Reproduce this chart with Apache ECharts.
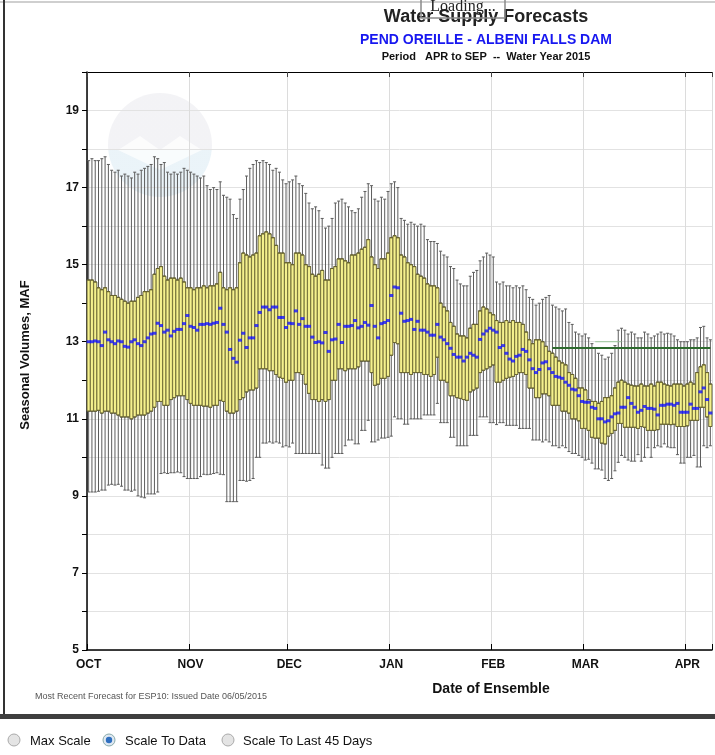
<!DOCTYPE html>
<html>
<head>
<meta charset="utf-8">
<script src="https://cdn.jsdelivr.net/npm/echarts@6/dist/echarts.min.js"></script>
<style>html,body{margin:0;padding:0;background:#fff;}#c{width:715px;height:755px;}</style>
</head>
<body>
<div id="c"></div>
<script>
// ---------- DATA ----------
const monthLabels = ['OCT','NOV','DEC','JAN','FEB','MAR','APR'];
const monthStarts = [0,31,61,92,123,151,182];
const yTickLabels = ['5','7','9','11','13','15','17','19'];

// whisker high (max of ensemble)
const whiskerHigh = [
17.7,17.75,17.7,17.7,17.75,17.8,17.6,17.45,17.4,17.45,
17.3,17.35,17.3,17.25,17.4,17.35,17.45,17.5,17.55,17.6,
17.8,17.75,17.6,17.65,17.4,17.35,17.4,17.35,17.4,17.5,
17.45,17.4,17.35,17.3,17.25,17.3,17.05,16.95,17.0,16.95,
17.15,16.8,16.75,16.7,16.3,16.2,16.7,16.95,17.3,17.5,
17.6,17.7,17.65,17.7,17.65,17.6,17.45,17.5,17.4,17.2,
17.1,17.15,17.2,17.3,17.1,17.05,16.85,16.6,16.45,16.5,
16.4,16.2,15.95,16.0,16.2,16.6,16.65,16.7,16.6,16.5,
16.4,16.35,16.45,16.75,16.9,17.1,17.05,16.7,16.65,16.75,
16.7,16.9,17.1,17.15,17.0,16.2,16.15,16.05,16.1,16.05,
16.0,16.05,16.0,15.65,15.6,15.6,15.55,15.35,15.25,15.2,
14.95,14.9,14.6,14.5,14.45,14.45,14.7,14.8,14.85,15.1,
15.2,15.3,15.25,15.2,14.55,14.5,14.55,14.45,14.45,14.4,
14.45,14.4,14.45,14.35,14.15,14.1,13.95,14.0,14.1,14.15,
14.2,13.95,13.9,13.85,13.8,13.85,13.5,13.45,13.25,13.2,
13.15,13.2,13.1,12.95,12.85,12.7,12.65,12.55,12.6,12.7,
12.9,13.3,13.35,13.3,13.2,13.25,13.2,13.1,13.1,13.25,
13.2,13.1,13.15,13.2,13.25,13.2,13.22,13.2,13.15,13.05,
13.0,13.0,13.0,13.05,13.05,13.1,13.37,13.4,13.1,13.05
];
// box high (upper quartile)
const boxHigh = [
14.6,14.6,14.55,14.4,14.35,14.4,14.3,14.2,14.2,14.15,
14.1,14.05,14.0,14.05,14.05,14.15,14.2,14.3,14.3,14.35,
14.75,14.9,14.95,14.7,14.6,14.65,14.65,14.6,14.65,14.55,
14.4,14.4,14.35,14.4,14.4,14.45,14.4,14.45,14.45,14.5,
14.8,14.4,14.35,14.4,14.35,14.4,15.05,15.3,15.25,15.2,
15.25,15.3,15.75,15.8,15.85,15.8,15.7,15.5,15.3,15.3,
15.05,15.05,15.0,15.3,15.3,15.25,15.0,14.95,14.75,14.7,
14.75,14.85,14.6,14.6,14.9,14.95,15.15,15.15,15.1,15.05,
15.25,15.25,15.3,15.4,15.45,15.65,15.2,15.0,14.9,15.15,
15.15,15.3,15.7,15.75,15.7,15.25,15.2,15.05,15.0,14.95,
14.75,14.7,14.65,14.5,14.45,14.45,14.4,14.0,13.9,13.8,
13.5,13.4,13.2,13.15,13.15,13.1,13.35,13.45,13.45,13.8,
13.9,13.85,13.75,13.7,13.55,13.5,13.5,13.55,13.5,13.55,
13.5,13.5,13.45,13.25,13.05,12.95,13.05,13.05,13.0,12.88,
12.75,12.7,12.6,12.5,12.45,12.4,12.2,12.15,12.05,11.8,
11.8,11.75,11.5,11.45,11.45,11.4,11.45,11.55,11.55,11.6,
11.8,11.95,12.0,11.95,11.9,11.87,11.85,11.85,11.9,11.85,
11.85,11.9,11.85,11.95,11.95,11.9,11.87,11.85,11.9,11.9,
11.9,11.85,11.9,11.95,11.9,12.2,12.35,12.4,12.2,11.9
];
// median (blue markers)
const median = [
13.0,13.0,13.02,13.0,12.9,13.25,13.05,13.0,12.95,13.02,
13.0,12.88,12.86,13.0,13.05,12.95,12.9,13.0,13.1,13.2,
13.22,13.48,13.42,13.25,13.3,13.15,13.27,13.32,13.32,13.47,
13.68,13.4,13.37,13.3,13.45,13.45,13.47,13.45,13.48,13.5,
13.87,13.45,13.25,12.8,12.57,12.47,13.04,13.22,12.85,13.1,
13.1,13.42,13.76,13.9,13.9,13.83,13.9,13.9,13.63,13.63,
13.37,13.48,13.47,13.8,13.45,13.6,13.4,13.4,13.12,12.98,
13.0,12.97,13.24,12.75,13.05,13.07,13.45,12.98,13.4,13.4,
13.42,13.55,13.36,13.4,13.5,13.43,13.94,13.4,13.1,13.47,
13.5,13.55,14.2,14.42,14.4,13.74,13.53,13.55,13.58,13.32,
13.53,13.3,13.3,13.25,13.17,13.17,13.45,13.12,13.05,12.95,
12.83,12.67,12.6,12.6,12.5,12.6,12.7,12.65,12.6,13.06,
13.2,13.28,13.35,13.3,13.25,12.85,12.9,12.7,12.55,12.5,
12.62,12.65,12.8,12.75,12.53,12.3,12.2,12.28,12.45,12.48,
12.3,12.2,12.1,12.08,12.05,11.95,11.87,11.77,11.75,11.6,
11.45,11.43,11.43,11.3,11.27,11.0,11.0,10.92,10.95,11.05,
11.13,11.15,11.3,11.3,11.55,11.4,11.3,11.17,11.22,11.32,
11.27,11.27,11.25,11.1,11.35,11.35,11.38,11.38,11.35,11.4,
11.17,11.17,11.17,11.38,11.27,11.27,11.7,11.8,11.5,11.15
];
// box low (lower quartile)
const boxLow = [
11.2,11.2,11.2,11.22,11.15,11.2,11.2,11.15,11.15,11.1,
11.05,11.05,11.05,11.0,11.05,11.1,11.1,11.1,11.15,11.2,
11.3,11.45,11.45,11.35,11.35,11.5,11.55,11.6,11.6,11.6,
11.5,11.4,11.35,11.35,11.35,11.33,11.33,11.3,11.35,11.35,
11.48,11.45,11.2,11.15,11.15,11.2,11.5,11.55,11.7,11.75,
11.75,11.8,12.3,12.3,12.3,12.25,12.25,12.15,12.08,12.05,
11.95,12.0,12.0,12.2,12.2,12.15,11.9,11.66,11.5,11.5,
11.45,11.5,11.45,11.5,12.0,12.0,12.3,12.3,12.25,12.3,
12.3,12.3,12.35,12.5,12.5,12.5,12.2,11.87,11.9,12.05,
12.05,12.1,12.65,12.98,12.95,12.2,12.2,12.2,12.15,12.2,
12.2,12.2,12.15,12.15,12.1,12.15,12.6,12.0,12.0,11.95,
11.6,11.6,11.55,11.53,11.5,11.48,11.7,11.75,11.8,12.2,
12.26,12.3,12.35,12.4,11.95,11.95,12.0,12.05,12.08,12.1,
12.15,12.2,12.2,12.15,11.8,11.8,11.55,11.55,11.65,11.65,
11.6,11.35,11.35,11.35,11.2,11.2,11.15,11.0,11.0,10.95,
10.75,10.75,10.7,10.52,10.5,10.5,10.37,10.35,10.55,10.62,
10.7,10.88,10.88,10.78,10.78,10.78,10.78,10.75,10.8,10.78,
10.7,10.7,10.7,10.72,10.86,10.86,10.86,10.85,10.86,10.8,
10.8,10.8,10.82,10.96,10.96,10.96,11.3,11.3,11.05,10.8
];
// whisker low (min of ensemble)
const whiskerLow = [
9.1,9.1,9.1,9.12,9.15,9.15,9.28,9.3,9.28,9.3,
9.25,9.15,9.15,9.12,9.15,9.0,8.97,8.95,9.05,9.05,
9.05,9.1,9.58,9.6,9.58,9.6,9.6,9.62,9.6,9.5,
9.45,9.45,9.45,9.45,9.5,9.56,9.55,9.56,9.58,9.6,
9.56,9.55,8.85,8.85,8.85,8.85,9.4,9.4,9.38,9.4,
9.45,10.0,10.0,10.37,10.37,10.4,10.37,10.4,10.37,10.27,
10.3,10.27,10.37,10.1,10.1,10.1,10.1,10.1,10.1,10.1,
10.1,9.8,9.72,9.72,10.0,10.1,10.1,10.1,10.3,10.45,
10.45,10.35,10.35,10.7,10.7,10.96,10.4,10.4,10.45,10.5,
10.5,10.52,10.55,11.05,11.0,11.0,10.86,10.86,11.0,11.0,
11.0,11.0,11.1,11.1,11.1,11.1,11.4,10.9,10.9,10.9,
10.52,10.52,10.3,10.3,10.3,10.3,10.57,10.57,10.57,11.05,
11.05,11.05,10.9,10.9,10.85,10.9,10.9,10.83,10.83,10.83,
10.83,10.75,10.75,10.75,10.75,10.45,10.45,10.45,10.4,10.45,
10.4,10.3,10.3,10.25,10.3,10.25,10.15,10.1,10.1,10.05,
10.0,9.93,9.95,9.85,9.7,9.7,9.67,9.45,9.4,9.45,
9.65,9.87,10.05,10.0,9.93,9.9,9.9,10.07,9.9,10.0,
10.25,10.0,10.25,10.3,10.27,10.35,10.27,10.25,10.25,10.07,
9.85,9.85,10.0,10.0,10.05,9.75,9.75,10.3,10.25,10.3
];
const observedVolume = 12.84;   // green reference line
const observedStart = 141;
const priorVolume = 13.0;       // faint green line
const priorRange = [154, 162];

// ---------- CATEGORIES (dates of ensemble) ----------
const days = [];
for (let i = 0; i < whiskerHigh.length; i++) {
  const d = new Date(2014, 9, 1 + i);
  days.push((d.getMonth()+1) + '/' + d.getDate());
}
const monthAt = {};
monthStarts.forEach((s, k) => { monthAt[s] = monthLabels[k]; });
const isMonth = (idx) => monthAt[idx] !== undefined;

const whiskerData = days.map((_, i) => [whiskerLow[i], boxLow[i], boxLow[i], boxHigh[i], whiskerHigh[i]]);
const boxData = days.map((_, i) => [boxLow[i], boxLow[i], boxHigh[i], boxHigh[i], boxHigh[i]]);
const medianData = days.map((d, i) => [d, median[i]]);
const lastIdx = days.length - 1;

const FONT = '"Liberation Sans", Arial, sans-serif';
const chart = echarts.init(document.getElementById('c'), null, {renderer: 'canvas'});

const plotLeft = 87, plotTop = 72, plotBottomY = 650;

chart.setOption({
  animation: false,
  backgroundColor: '#fff',
  grid: {left: plotLeft, right: 3, top: plotTop, bottom: 755 - plotBottomY, containLabel: false},
  xAxis: [{
    type: 'category', data: days, boundaryGap: true, gridIndex: 0,
    axisLine: {show: true, lineStyle: {color: '#000', width: 1.5}},
    axisTick: {show: true, inside: true, length: 6, interval: (i) => isMonth(i), lineStyle: {color: '#000'}},
    axisLabel: {interval: (i) => isMonth(i), formatter: (v, i) => monthAt[i] || '',
      fontFamily: FONT, fontWeight: 'bold', fontSize: 12, color: '#111', margin: 9},
    splitLine: {show: true, interval: (i) => isMonth(i), lineStyle: {color: '#dcdcdc', width: 1}}
  }, {
    type: 'category', data: days, boundaryGap: true, gridIndex: 0, position: 'top',
    axisLine: {show: true, lineStyle: {color: '#000', width: 1.2}},
    axisTick: {show: true, inside: true, length: 5, interval: (i) => isMonth(i), lineStyle: {color: '#444'}},
    axisLabel: {show: false}, splitLine: {show: false}
  }],
  yAxis: {
    type: 'value', min: 5, max: 20, interval: 1,
    axisLine: {show: true, lineStyle: {color: '#000', width: 1.5}},
    axisTick: {show: true, length: 5, lineStyle: {color: '#000'}},
    axisLabel: {formatter: (v) => yTickLabels.indexOf(String(v)) >= 0 ? String(v) : '',
      fontFamily: FONT, fontWeight: 'bold', fontSize: 12, color: '#111', margin: 8},
    splitLine: {show: true, lineStyle: {color: '#e2e2e2', width: 1}}
  },
  series: [{
    type: 'boxplot', xAxisIndex: 0, data: whiskerData, boxWidth: [3, 3],
    itemStyle: {color: '#f3ef86', borderColor: '#5c5c5c', borderWidth: 1}, z: 3
  }, {
    type: 'boxplot', xAxisIndex: 1, data: boxData, boxWidth: [3, 3],
    itemStyle: {color: '#f5f18e', borderColor: '#66622c', borderWidth: 0.7}, z: 4
  }, {
    type: 'line', xAxisIndex: 0, data: [[days[priorRange[0]], priorVolume], [days[priorRange[1]], priorVolume]],
    symbol: 'none', lineStyle: {color: '#9cc89c', width: 1}, z: 5
  }, {
    type: 'line', xAxisIndex: 0, data: [[days[observedStart], observedVolume], [days[lastIdx], observedVolume]],
    symbol: 'none', lineStyle: {color: '#2e6a2e', width: 2}, z: 5
  }, {
    type: 'scatter', xAxisIndex: 0, data: medianData, symbol: 'rect', symbolSize: [4, 3],
    itemStyle: {color: '#1414ff'}, z: 6
  }],
  graphic: [
    // faint logo watermark
    {type: 'circle', z: 0, shape: {cx: 160, cy: 145, r: 52},
     style: {fill: new echarts.graphic.LinearGradient(0,0,0,1,[{offset:0,color:'#eeeef2'},{offset:0.55,color:'#eeeef2'},{offset:0.55,color:'#e2eff6'},{offset:1,color:'#e2eff6'}]), opacity: 0.7}},
    {type: 'polygon', z: 0, shape: {points: [[118,150],[140,136],[160,150],[180,136],[202,150],[160,170]]}, style: {fill: '#ffffff', opacity: 0.7}},
    // titles
    {type: 'text', z: 10, style: {x: 486, y: 17, text: 'Water Supply Forecasts', font: 'bold 18px ' + FONT, fill: '#222', textAlign: 'center', textVerticalAlign: 'middle'}},
    {type: 'rect', z: 11, shape: {x: 421, y: -3, width: 84, height: 21}, style: {fill: 'rgba(255,255,255,0)', stroke: '#8a8a8a', lineWidth: 1.5}},
    {type: 'text', z: 11, style: {x: 463, y: 7, text: 'Loading...', font: '16px "Liberation Serif", serif', fill: '#222', textAlign: 'center', textVerticalAlign: 'middle'}},
    {type: 'text', z: 10, style: {x: 486, y: 40, text: 'PEND OREILLE - ALBENI FALLS DAM', font: 'bold 14px ' + FONT, fill: '#1717f0', textAlign: 'center', textVerticalAlign: 'middle'}},
    {type: 'text', z: 10, style: {x: 486, y: 57, text: 'Period   APR to SEP  --  Water Year 2015', font: 'bold 11px ' + FONT, fill: '#111', textAlign: 'center', textVerticalAlign: 'middle'}},
    // axis names
    {type: 'text', z: 10, x: 25, y: 355, rotation: Math.PI / 2, style: {x: 0, y: 0, text: 'Seasonal Volumes, MAF', font: 'bold 13px ' + FONT, fill: '#111', textAlign: 'center', textVerticalAlign: 'middle'}},
    {type: 'text', z: 10, style: {x: 491, y: 689, text: 'Date of Ensemble', font: 'bold 14px ' + FONT, fill: '#111', textAlign: 'center', textVerticalAlign: 'middle'}},
    {type: 'text', z: 10, style: {x: 35, y: 697, text: 'Most Recent Forecast for ESP10: Issued Date 06/05/2015', font: '9px ' + FONT, fill: '#555', textAlign: 'left', textVerticalAlign: 'middle'}},
    // frame
    {type: 'rect', z: 10, shape: {x: 0, y: 1, width: 715, height: 2}, style: {fill: '#cfcfcf'}},
    {type: 'rect', z: 10, shape: {x: 3, y: 0, width: 2, height: 718}, style: {fill: '#333'}},
    {type: 'rect', z: 10, shape: {x: 0, y: 714, width: 715, height: 5}, style: {fill: '#3e3e3e'}},
    // radio buttons
    {type: 'circle', z: 10, shape: {cx: 14, cy: 740, r: 6}, style: {fill: '#e4e4e4', stroke: '#aaa', lineWidth: 1}},
    {type: 'text', z: 10, style: {x: 30, y: 741, text: 'Max Scale', font: '13px ' + FONT, fill: '#111', textVerticalAlign: 'middle'}},
    {type: 'circle', z: 10, shape: {cx: 109, cy: 740, r: 6}, style: {fill: '#dfe8f2', stroke: '#8aa', lineWidth: 1}},
    {type: 'circle', z: 11, shape: {cx: 109, cy: 740, r: 3.2}, style: {fill: '#2f6fc0'}},
    {type: 'text', z: 10, style: {x: 125, y: 741, text: 'Scale To Data', font: '13px ' + FONT, fill: '#111', textVerticalAlign: 'middle'}},
    {type: 'circle', z: 10, shape: {cx: 228, cy: 740, r: 6}, style: {fill: '#e4e4e4', stroke: '#aaa', lineWidth: 1}},
    {type: 'text', z: 10, style: {x: 243, y: 741, text: 'Scale To Last 45 Days', font: '13px ' + FONT, fill: '#111', textVerticalAlign: 'middle'}}
  ]
});
</script>
</body>
</html>
